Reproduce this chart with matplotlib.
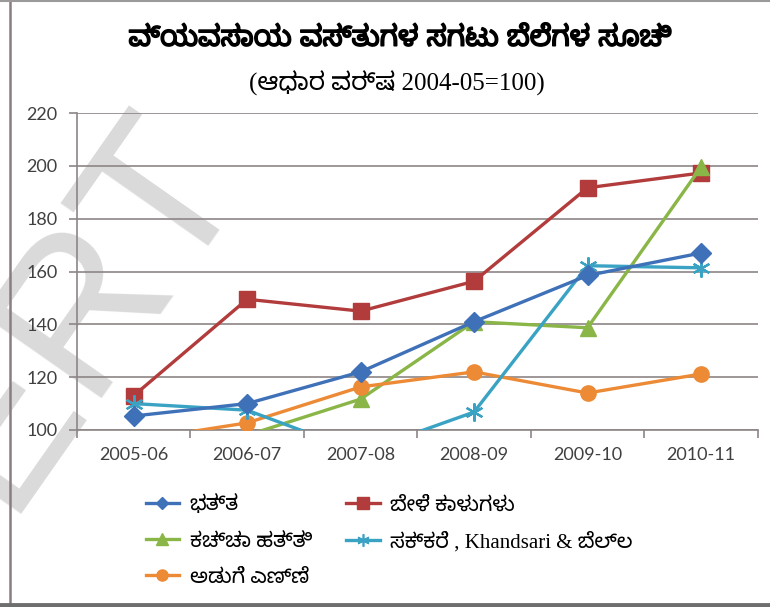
import numpy as np
import matplotlib
matplotlib.use('Agg')
import matplotlib.pyplot as plt
import matplotlib.font_manager as fm
import matplotlib.patheffects as pe
from matplotlib.ft2font import FT2Font
from matplotlib.lines import Line2D

# Wholesale price index of farm goods (base year 2004-05 = 100)
years = ['2005-06', '2006-07', '2007-08', '2008-09', '2009-10', '2010-11']
rice = [105.3, 110.0, 122.0, 141.0, 158.5, 167.0]
pulses = [113.0, 149.5, 145.0, 156.3, 191.7, 197.3]
cotton = [95.0, 98.0, 111.7, 141.0, 138.7, 199.5]
edible_oil = [96.0, 102.7, 116.3, 122.0, 114.0, 121.2]
sugar = [110.0, 107.5, 91.5, 106.8, 162.2, 161.4]

names = ['ಭತ್ತ', 'ಕಚ್ಚಾ ಹತ್ತಿ', 'ಅಡುಗೆ ಎಣ್ಣೆ', 'ಬೇಳೆ ಕಾಳುಗಳು',
         'ಸಕ್ಕರೆ , Khandsari & ಬೆಲ್ಲ']
yticks = [100, 120, 140, 160, 180, 200, 220]


def kannada_fonts():
    found = []
    for f in fm.fontManager.ttflist:
        try:
            if 0x0C95 in FT2Font(f.fname).get_charmap():
                found.append(f.name)
        except Exception:
            pass
    return sorted(set(found))


kfonts = kannada_fonts()
kn = 'DejaVu Sans'
for pref in ['Noto Sans Kannada', 'Noto Sans Kannada UI', 'Hind Mysuru',
             'FreeSerif']:
    if pref in kfonts:
        kn = pref
        break
else:
    if kfonts:
        kn = kfonts[0]

fig = plt.figure(figsize=(7.7, 6.07), dpi=100)
ax = fig.add_axes([0.1, 0.2916, 0.884, 0.5222])
ax.patch.set_alpha(0)

# grey watermark behind everything
fig.text(0.318, 0.72, 'NCERT', rotation=55, rotation_mode='anchor',
         ha='right', va='baseline', fontsize=152, family='Liberation Sans',
         color='#dadada', zorder=-5)

x = np.arange(len(years))
ax.plot(x, rice, color='#3f71b8', lw=2.4, marker='D', ms=10, zorder=5)
ax.plot(x, pulses, color='#b23b3b', lw=2.4, marker='s', ms=11, zorder=4)
ax.plot(x, cotton, color='#8ab648', lw=2.4, marker='^', ms=11, zorder=4)
ax.plot(x, edible_oil, color='#ec8a35', lw=2.4, marker='o', ms=11, zorder=4)
ax.plot(x, sugar, color='#3aa3c4', lw=2.4, marker=(6, 2, 0), ms=13, mew=1.6,
        zorder=4)

ax.set_ylim(100, 220)
ax.set_xlim(-0.5, 5.5)
ax.set_yticks(yticks)
ax.set_xticks(x)
ax.set_xticklabels(years)
ax.set_xticks(np.arange(-0.5, 6, 1), minor=True)
ax.yaxis.grid(True, color='#8c8585', lw=1.2)
ax.set_axisbelow(True)
for s in ['top', 'right']:
    ax.spines[s].set_visible(False)
for s in ['left', 'bottom']:
    ax.spines[s].set_color('#8c8585')
    ax.spines[s].set_linewidth(1.2)
ax.tick_params(axis='x', which='major', length=0, pad=12, labelsize=13,
               labelcolor='#404040')
ax.tick_params(axis='x', which='minor', length=6, width=1.2, color='#8c8585')
ax.tick_params(axis='y', length=6, width=1.2, color='#8c8585', pad=8,
               labelsize=13, labelcolor='#404040')
for lab in ax.get_xticklabels() + ax.get_yticklabels():
    lab.set_family('Lato')

bold = [pe.withStroke(linewidth=1.1, foreground='black')]
fig.text(0.52, 0.937, 'ವ್ಯವಸಾಯ ವಸ್ತುಗಳ ಸಗಟು ಬೆಲೆಗಳ ಸೂಚಿ', ha='center',
         va='center', fontsize=20.5, family=kn, path_effects=bold)
fig.text(0.515, 0.862, '(ಆಧಾರ ವರ್ಷ 2004-05=100)', ha='center', va='center',
         fontsize=18, family=['Liberation Serif', kn])

# legend with small markers, Excel style
handles = [
    Line2D([], [], color='#3f71b8', lw=2.4, marker='D', ms=6),
    Line2D([], [], color='#8ab648', lw=2.4, marker='^', ms=8),
    Line2D([], [], color='#ec8a35', lw=2.4, marker='o', ms=8),
    Line2D([], [], color='#b23b3b', lw=2.4, marker='s', ms=8),
    Line2D([], [], color='#3aa3c4', lw=2.4, marker=(6, 2, 0), ms=9, mew=1.2),
]
leg = fig.legend(handles, names, ncol=2, loc='upper left',
                 bbox_to_anchor=(0.165, 0.215), frameon=False,
                 prop={'family': ['Liberation Serif', kn], 'size': 15},
                 handlelength=1.6, handletextpad=0.5, columnspacing=1.65,
                 labelspacing=0.8)

# outer frame
fig.add_artist(Line2D([0.013, 0.013], [0.0, 1.0], color='#8a7d7d', lw=1.8))
fig.add_artist(Line2D([0.0, 1.0], [0.998, 0.998], color='#9a9a9a', lw=1.5))
fig.add_artist(Line2D([0.0, 1.0], [0.004, 0.004], color='#6e6e6e', lw=3.5))

fig.savefig('out.png', dpi=100)
